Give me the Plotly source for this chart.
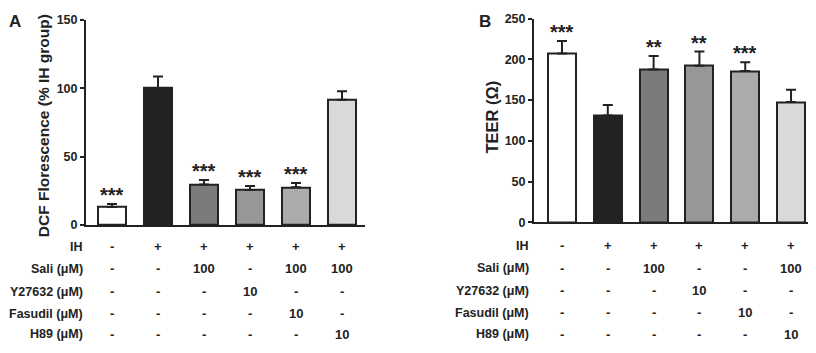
import plotly.graph_objects as go

# ---------------- data ----------------
groups = ["Control", "IH", "IH+Sali", "IH+Y27632", "IH+Fasudil", "IH+H89"]

dcf_mean = [13, 100, 29.5, 25.5, 27.5, 91.5]
dcf_err = [2.2, 8.5, 3.3, 3.0, 3.1, 6.2]
dcf_sig = ["***", "", "***", "***", "***", ""]

teer_mean = [207, 131, 187.5, 192, 185.5, 147.5]
teer_err = [15.5, 13.0, 16.5, 17.5, 11.0, 15.0]
teer_sig = ["***", "", "**", "**", "***", ""]

bar_colors = ["#ffffff", "#222222", "#7b7b7b", "#979797", "#ababab", "#d9d9d9"]

row_labels = ["IH", "Sali (μM)", "Y27632 (μM)", "Fasudil (μM)", "H89 (μM)"]
table_a = [
    ["-", "+", "+", "+", "+", "+"],
    ["-", "-", "100", "-", "100", "100"],
    ["-", "-", "-", "10", "-", "-"],
    ["-", "-", "-", "-", "10", "-"],
    ["-", "-", "-", "-", "-", "10"],
]
table_b = [
    ["-", "+", "+", "+", "+", "+"],
    ["-", "-", "100", "-", "-", "100"],
    ["-", "-", "-", "10", "-", "-"],
    ["-", "-", "-", "-", "10", "-"],
    ["-", "-", "-", "-", "-", "10"],
]

# figure is 800x337 so that, with the page's default 8px body margin,
# the page is exactly 816x353
W, H = 800, 337
OFF = 8
FONT = "Liberation Sans, Arial, sans-serif"
INK = "#222222"


def px(p):
    return (p - OFF) / W


def py(p):
    return 1 - (p - OFF) / H


fig = go.Figure()


def add_bars(means, errs, xa, ya):
    fig.add_trace(go.Bar(
        x=groups, y=means, width=0.61,
        marker=dict(color=bar_colors, line=dict(color=INK, width=2)),
        error_y=dict(type="data", array=errs, arrayminus=[0] * len(errs),
                     symmetric=False, color=INK, thickness=2, width=5),
        xaxis=xa, yaxis=ya, showlegend=False, hoverinfo="skip",
    ))


add_bars(dcf_mean, dcf_err, "x", "y")
add_bars(teer_mean, teer_err, "x2", "y2")

axis_common = dict(showline=True, linewidth=2, linecolor=INK, showgrid=False,
                   zeroline=False)
tickfont = dict(family=FONT, size=12.5, color=INK, weight="bold")

fig.update_layout(
    width=W, height=H, autosize=False,
    margin=dict(l=0, r=0, t=0, b=0),
    paper_bgcolor="white", plot_bgcolor="white",
    bargap=0,
    xaxis=dict(domain=[px(86), px(365)], range=[-0.565, 5.5], anchor="y",
               showticklabels=False, ticks="", type="category", **axis_common),
    yaxis=dict(domain=[py(227), py(13)], range=[0, 150], anchor="x",
               tickvals=[0, 50, 100, 150], ticks="outside", ticklen=4,
               tickwidth=2, tickcolor=INK, tickfont=tickfont,
               ticklabeloverflow="allow", **axis_common),
    xaxis2=dict(domain=[px(534), 1.0], range=[-0.611, 5.37], anchor="y2",
                showticklabels=False, ticks="", type="category", **axis_common),
    yaxis2=dict(domain=[py(224.3), py(11.7)], range=[0, 250], anchor="x2",
                tickvals=[0, 50, 100, 150, 200, 250], ticks="outside", ticklen=4,
                tickwidth=2, tickcolor=INK, tickfont=tickfont,
                ticklabeloverflow="allow", **axis_common),
)

ann = []
fnt = lambda s: dict(family=FONT, size=s, color=INK, weight="bold")

# significance stars
for means, errs, sig, xr, yr in [(dcf_mean, dcf_err, dcf_sig, "x", "y"),
                                 (teer_mean, teer_err, teer_sig, "x2", "y2")]:
    for g, m, e, s in zip(groups, means, errs, sig):
        if s:
            ann.append(dict(x=g, y=m + e, xref=xr, yref=yr, text=s,
                            showarrow=False, yanchor="bottom", yshift=-4,
                            font=fnt(20)))

# treatment tables
rows_a_y = [250, 273, 296.5, 319.5, 341]
rows_b_y = [249, 272, 295.5, 318.5, 341]
for table, rows_y, xr, lab_x in [(table_a, rows_a_y, "x", 85),
                                 (table_b, rows_b_y, "x2", 531)]:
    for label, row, yy in zip(row_labels, table, rows_y):
        ann.append(dict(x=px(lab_x), y=py(yy), xref="paper", yref="paper",
                        text=label, showarrow=False, xanchor="right",
                        yanchor="middle", font=fnt(12.5)))
        for g, v in zip(groups, row):
            ann.append(dict(x=g, y=py(yy), xref=xr, yref="paper", text=v,
                            showarrow=False, xanchor="center",
                            yanchor="middle", font=fnt(13)))

# y-axis titles
ann.append(dict(x=px(43), y=py(124), xref="paper", yref="paper",
                text="DCF Florescence (% IH group)", textangle=-90,
                showarrow=False, xanchor="center", yanchor="middle",
                font=fnt(15.5)))
ann.append(dict(x=px(492), y=py(115), xref="paper", yref="paper",
                text="TEER (Ω)", textangle=-90,
                showarrow=False, xanchor="center", yanchor="middle",
                font=fnt(16.5)))

# panel letters
ann.append(dict(x=px(15), y=py(15), xref="paper", yref="paper", text="A",
                showarrow=False, xanchor="center", yanchor="middle",
                font=fnt(17)))
ann.append(dict(x=px(485), y=py(15), xref="paper", yref="paper", text="B",
                showarrow=False, xanchor="center", yanchor="middle",
                font=fnt(17)))

fig.update_layout(annotations=ann)
fig.write_html("out.html", config={"displayModeBar": False})
